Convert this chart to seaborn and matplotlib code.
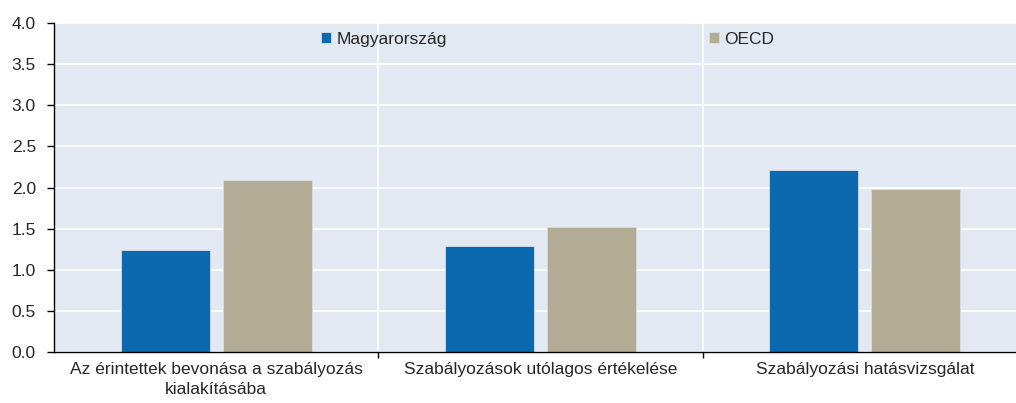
import numpy as np
import pandas as pd
import matplotlib
matplotlib.use("Agg")
import matplotlib.pyplot as plt
import seaborn as sns
from matplotlib.ticker import FixedLocator

# Chart data
categories = ["Az érintettek bevonása a szabályozás\nkialakításába",
              "Szabályozások utólagos értékelése",
              "Szabályozási hatásvizsgálat"]
series_names = ["Magyarország", "OECD"]
hungary = [1.24, 1.29, 2.21]
oecd = [2.09, 1.52, 1.98]
y_ticks = [0.0, 0.5, 1.0, 1.5, 2.0, 2.5, 3.0, 3.5, 4.0]

df = pd.DataFrame({
    "category": categories * 2,
    "series": [series_names[0]] * 3 + [series_names[1]] * 3,
    "value": hungary + oecd,
})

sns.set_theme(style="white")
plt.rcParams["font.family"] = ["Liberation Sans", "DejaVu Sans"]
plt.rcParams["font.size"] = 12.5

palette = {"Magyarország": "#0C68AF", "OECD": "#B1AC93"}

fig = plt.figure(figsize=(10.16, 4.03), dpi=100)
ax = fig.add_axes([54 / 1016, 51 / 403, 973 / 1016, 329 / 403])
ax.set_facecolor("#E3E9F2")

sns.barplot(data=df, x="category", y="value", hue="series", palette=palette,
            width=0.629, gap=0.127, saturation=1, ax=ax, legend=True,
            edgecolor="#D8DEE8", linewidth=0.6)

ax.set_xlim(-0.5, 2.5)
ax.set_ylim(0, 4)
ax.set_yticks(y_ticks)
ax.set_yticklabels([f"{v:.1f}" for v in y_ticks], fontsize=12.5)
ax.set_xlabel("")
ax.set_ylabel("")
ax.tick_params(axis="x", which="major", length=0, labelsize=12.5, pad=7)
for lbl in ax.get_xticklabels():
    lbl.set_linespacing(1.45)
ax.xaxis.set_minor_locator(FixedLocator([0.5, 1.5]))
ax.tick_params(axis="x", which="minor", length=4, width=1, color="black", direction="out", bottom=True)
ax.tick_params(axis="y", length=5, width=1, color="black", direction="out", left=True, pad=8)

ax.grid(axis="y", which="major", color="white", linewidth=1.2)
ax.grid(axis="x", which="minor", color="white", linewidth=1.2)
ax.set_axisbelow(True)

for side in ["top", "right"]:
    ax.spines[side].set_visible(False)
for side in ["left", "bottom"]:
    ax.spines[side].set_color("black")
    ax.spines[side].set_linewidth(1)

handles, labels = ax.get_legend_handles_labels()
ax.legend(handles, labels, ncol=2, frameon=False, loc="center left",
          bbox_to_anchor=(320.5 / 1016, 1 - 39.5 / 403), bbox_transform=fig.transFigure,
          handlelength=0.6, handleheight=0.6, handletextpad=0.3,
          columnspacing=15.1, borderpad=0, borderaxespad=0, fontsize=12.5)

fig.savefig("out.png", dpi=100)
